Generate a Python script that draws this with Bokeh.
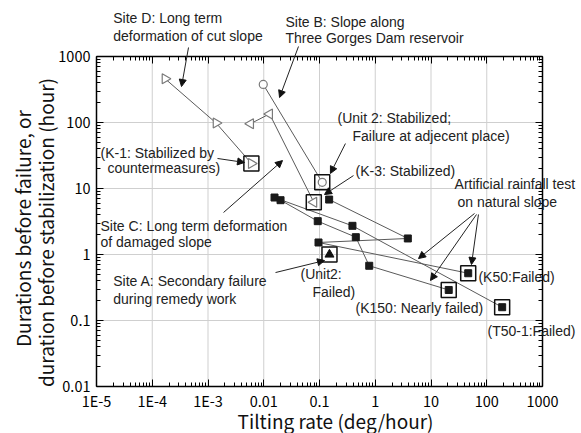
import numpy as np
from bokeh.plotting import figure
from bokeh.models import Range1d, LogAxis, FixedTicker, Label, Arrow, NormalHead
from bokeh.embed import file_html
from bokeh.resources import INLINE

# ---------------- data ----------------
x_ticks = [1e-5, 1e-4, 1e-3, 1e-2, 1e-1, 1, 10, 100, 1000]
x_tick_labels = ["1E-5", "1E-4", "1E-3", "0.01", "0.1", "1", "10", "100", "1000"]
y_ticks = [0.01, 0.1, 1, 10, 100, 1000]
y_tick_labels = ["0.01", "0.1", "1", "10", "100", "1000"]

# Site D: long term deformation of cut slope (last point = K-1, stabilized)
site_d_rate = [1.7e-4, 1.4e-3, 6.0e-3]
site_d_dur = [460, 98, 24]
# Site B: slope along Three Gorges Dam reservoir (last = Unit 2, stabilized)
site_b_rate = [9.8e-3, 0.112]
site_b_dur = [377, 12.4]
# Site C: long term deformation of damaged slope (last = K-3, stabilized)
site_c_rate = [5.8e-3, 1.27e-2, 7.9e-2]
site_c_dur = [96, 135, 6.2]
# Site A: secondary failure during remedy work (Unit2, failed)
site_a_rate = [0.151]
site_a_dur = [1.0]
# Artificial rainfall test on natural slope: sensor readings
rain_rate = [0.0156, 0.020, 0.149, 0.093, 0.39, 0.448, 0.096, 3.84, 0.78]
rain_dur = [7.3, 6.65, 6.8, 3.2, 2.72, 1.83, 1.52, 1.75, 0.675]
# Artificial rainfall test: final states
fail_names = ["K50", "K150", "T50-1"]
fail_rate = [46.5, 20.8, 189]
fail_dur = [0.52, 0.29, 0.159]
# links between readings ("r" = reading, "f" = final state)
rain_links = [
    [("r", 0), ("r", 4), ("f", 2)],
    [("r", 1), ("r", 3), ("r", 5), ("r", 8), ("f", 1)],
    [("r", 6), ("f", 0)],
    [("r", 2), ("r", 7)],
    [("r", 6), ("r", 7)],
]

# ---------------- layout (plot box: x 96..542 px, y 56..386 px) ----------------
W, H = 581, 433
BOX_L, BOX_R, BOX_T, BOX_B = 96, 542, 56, 386
x_dec = (BOX_R - BOX_L) / (np.log10(x_ticks[-1]) - np.log10(x_ticks[0]))
y_dec = (BOX_B - BOX_T) / (np.log10(y_ticks[-1]) - np.log10(y_ticks[0]))
x_lo = 10 ** (np.log10(x_ticks[0]) - BOX_L / x_dec)
x_hi = 10 ** (np.log10(x_ticks[-1]) + (W - BOX_R) / x_dec)
y_lo = 10 ** (np.log10(y_ticks[0]) - (H - BOX_B) / y_dec)
y_hi = 10 ** (np.log10(y_ticks[-1]) + BOX_T / y_dec)

p = figure(width=W, height=H, x_axis_type="log", y_axis_type="log",
           x_range=Range1d(x_lo, x_hi), y_range=Range1d(y_lo, y_hi),
           x_axis_location=None, y_axis_location=None, title=None,
           output_backend="svg", toolbar_location=None, min_border=0)
p.background_fill_color = "white"
p.border_fill_color = "white"
p.outline_line_color = None
p.xgrid.visible = False
p.ygrid.visible = False

x_minor = [m * 10.0 ** e for e in range(-5, 3) for m in range(2, 10)]
y_minor = [m * 10.0 ** e for e in range(-2, 3) for m in range(2, 10)]

TICK_FONT = "Noto Sans CJK JP"

def make_axis(ticks, labels, minors, loc, bounds, show, standoff):
    ax = LogAxis(fixed_location=loc, bounds=bounds)
    ax.ticker = FixedTicker(ticks=ticks, minor_ticks=minors)
    ax.major_label_overrides = {t: l for t, l in zip(ticks, labels)}
    ax.axis_line_color = "black"
    ax.axis_line_width = 1.5
    ax.major_tick_in = 7
    ax.major_tick_out = 0
    ax.minor_tick_in = 4
    ax.minor_tick_out = 0
    ax.major_tick_line_color = "black"
    ax.minor_tick_line_color = "black"
    ax.major_label_text_font = TICK_FONT
    if show:
        ax.major_label_text_font_size = "14.5px"
        ax.major_label_text_color = "black"
        ax.major_label_standoff = standoff
    else:
        ax.major_label_text_font_size = "0px"
        ax.major_label_text_color = None
        ax.major_label_standoff = 0
    return ax

xr = (x_ticks[0], x_ticks[-1])
yrg = (y_ticks[0], y_ticks[-1])
p.add_layout(make_axis(x_ticks, x_tick_labels, x_minor, y_ticks[0], xr, True, 3), "below")
p.add_layout(make_axis(x_ticks, x_tick_labels, x_minor, y_ticks[-1], xr, False, 0), "above")
p.add_layout(make_axis(y_ticks, y_tick_labels, y_minor, x_ticks[0], yrg, True, 6), "left")
p.add_layout(make_axis(y_ticks, y_tick_labels, y_minor, x_ticks[-1], yrg, False, 0), "right")

# grid lines inside the box
GRID_C = "#cfcfcf"
p.segment(x0=x_ticks, y0=[y_ticks[0]] * len(x_ticks), x1=x_ticks, y1=[y_ticks[-1]] * len(x_ticks),
          line_color=GRID_C, line_width=1)
p.segment(x0=[x_ticks[0]] * len(y_ticks), y0=y_ticks, x1=[x_ticks[-1]] * len(y_ticks), y1=y_ticks,
          line_color=GRID_C, line_width=1)

LINE_C = "#5a5a5a"
GRAY = "#7a7a7a"

# ---- connecting lines ----
def pt(kind, i):
    if kind == "r":
        return rain_rate[i], rain_dur[i]
    return fail_rate[i], fail_dur[i]

xs = [[pt(k, i)[0] for k, i in path] for path in rain_links]
ys = [[pt(k, i)[1] for k, i in path] for path in rain_links]
p.multi_line(xs, ys, line_color=LINE_C, line_width=1)
p.line(site_d_rate, site_d_dur, line_color=LINE_C, line_width=1)
p.line(site_b_rate, site_b_dur, line_color=LINE_C, line_width=1)
p.line(site_c_rate, site_c_dur, line_color=LINE_C, line_width=1)

# ---- markers ----
p.scatter(site_d_rate, site_d_dur, marker="triangle", angle=-np.pi / 2, size=10,
          fill_color="white", line_color=GRAY, line_width=1.2)
p.scatter(site_b_rate, site_b_dur, marker="circle", size=8,
          fill_color="white", line_color=GRAY, line_width=1.2)
p.scatter(site_c_rate, site_c_dur, marker="triangle", angle=np.pi / 2, size=10,
          fill_color="white", line_color=GRAY, line_width=1.2)
p.scatter(site_a_rate, site_a_dur, marker="triangle", size=9,
          fill_color="#111111", line_color="#111111")
p.scatter(rain_rate, rain_dur, marker="square", size=7,
          fill_color="#1a1a1a", line_color="#1a1a1a")
p.scatter(fail_rate, fail_dur, marker="square", size=7,
          fill_color="#1a1a1a", line_color="#1a1a1a")

# boxes around the final states
box_x = [site_d_rate[-1], site_b_rate[-1], site_c_rate[-1], site_a_rate[0]] + fail_rate
box_y = [site_d_dur[-1], site_b_dur[-1], site_c_dur[-1], site_a_dur[0]] + fail_dur
p.scatter(box_x, box_y, marker="square", size=15, fill_color=None,
          line_color="#111111", line_width=1.5)

# ---- axis titles ----
p.add_layout(Label(x=0.1936, y=0.00305, text="Tilting rate (deg/hour)", text_align="center",
                   text_baseline="middle", text_font=TICK_FONT, text_font_size="19px",
                   text_color="#111111"))
p.add_layout(Label(x=4.706e-7, y=2.477, text="Durations before failure, or", angle=np.pi / 2,
                   text_align="center", text_baseline="middle", text_font=TICK_FONT,
                   text_font_size="19px", text_color="#111111"))
p.add_layout(Label(x=1.217e-6, y=2.154, text="duration before stabilization (hour)", angle=np.pi / 2,
                   text_align="center", text_baseline="middle", text_font=TICK_FONT,
                   text_font_size="19px", text_color="#111111"))

# ---- annotations ----
ANN_FONT = "Liberation Sans"

def ann(text, x, y, align="left", size="14px"):
    p.add_layout(Label(x=x, y=y, text=text, text_align=align, text_baseline="middle",
                       text_font=ANN_FONT, text_font_size=size, text_color="#222222"))

ann("Site D: Long term", 2.0e-5, 3770)
ann("deformation of cut slope", 2.0e-5, 2010)
ann("Site B: Slope along", 0.0245, 3275)
ann("Three Gorges Dam reservoir", 0.0245, 1874)
ann("(K-1: Stabilized by", 1.18e-5, 35.1)
ann("countermeasures)", 1.57e-5, 20.1)
ann("Site C: Long term deformation", 1.18e-5, 2.75)
ann("of damaged slope", 1.18e-5, 1.52)
ann("Site A: Secondary failure", 2.0e-5, 0.39)
ann("during remedy work", 2.0e-5, 0.215)
ann("(Unit 2: Stabilized;", 0.21, 119)
ann("Failure at adjecent place)", 0.39, 63.5)
ann("(K-3: Stabilized)", 0.443, 18.7)
ann("Artificial rainfall test", 26.5, 11.5)
ann("on natural slope", 29.9, 6.35)
ann("(K50:Failed)", 71, 0.464)
ann("(K150: Nearly failed)", 0.443, 0.152)
ann("(T50-1:Failed)", 103, 0.0705)
ann("(Unit2:", 0.0456, 0.515)
ann("Failed)", 0.0748, 0.275)

def arrow(x0, y0, x1, y1):
    p.add_layout(Arrow(end=NormalHead(size=7, fill_color="#111111", line_color="#111111"),
                       x_start=x0, y_start=y0, x_end=x1, y_end=y1,
                       line_color="#222222", line_width=1))

arrow(4.47e-4, 1369, 3.35e-4, 351)     # Site D
arrow(0.042, 1418, 0.0192, 239)        # Site B
arrow(1.48e-3, 28.5, 4.52e-3, 24.8)    # K-1
arrow(1.9e-3, 4.33, 0.0217, 26.5)      # Site C
arrow(0.01626, 0.533, 0.123, 0.81)     # Site A
arrow(0.292, 48, 0.157, 16.9)          # Unit 2 stabilized
arrow(0.407, 15.7, 0.123, 8.1)         # K-3
arrow(60.3, 4.18, 5.97, 0.869)         # rainfall 1
arrow(65.5, 4.04, 9.8, 0.404)          # rainfall 2
arrow(71, 4.04, 53.2, 0.705)           # rainfall 3

open("out.html", "w").write(file_html(p, INLINE))
